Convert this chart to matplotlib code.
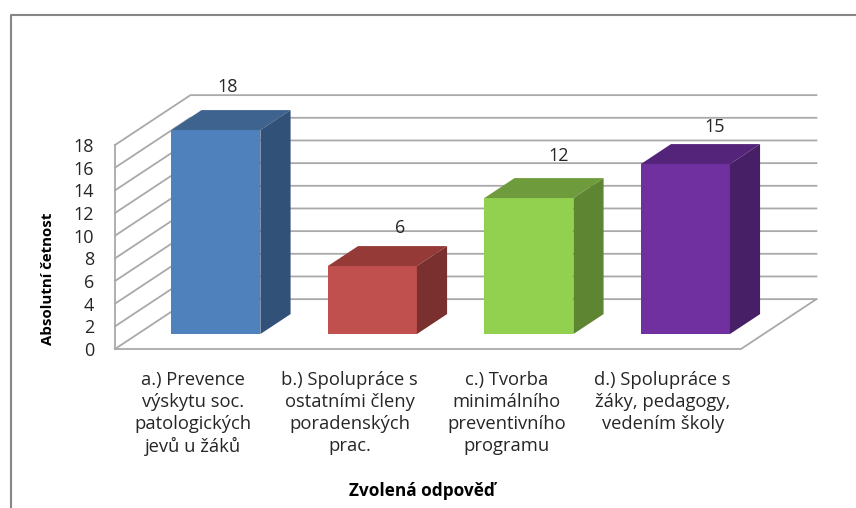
"""Recreation of an Excel style 3-D column chart, drawn from the values below."""
import matplotlib
matplotlib.use("Agg")
import matplotlib.pyplot as plt
from matplotlib.lines import Line2D

categories = [
    "a.) Prevence\nvýskytu soc.\npatologických\njevů u žáků",
    "b.) Spolupráce s\nostatními členy\nporadenských\nprac.",
    "c.) Tvorba\nminimálního\npreventivního\nprogramu",
    "d.) Spolupráce s\nžáky, pedagogy,\nvedením školy",
]
counts = [18, 6, 12, 15]
y_ticks = [0, 2, 4, 6, 8, 10, 12, 14, 16, 18]
y_label = "Absolutní četnost"
x_label = "Zvolená odpověď"

front_colors = ["#4F81BD", "#C0504D", "#92D050", "#7030A0"]
top_colors = ["#3F638F", "#953A37", "#6E9C3C", "#53247A"]
side_colors = ["#315178", "#7A302E", "#5E8532", "#471F66"]

W, H = 856, 508
DEPTH_X = 0.482   # full floor depth, in category units
DEPTH_Y = 4.4     # full floor depth, in value units
BAR_W = 0.569
BAR_D0, BAR_D1 = 0.30, 0.70   # where the bars sit inside the floor depth
GRID = "#A9A9A9"
TEXT = "#262626"
FONT = "Open Sans"
# data labels sit a little unevenly above the columns (pixels)
label_nudge = [(12, 43), (28, 38), (30, 42), (29, 37)]

plt.rcParams["font.family"] = [FONT, "DejaVu Sans"]

fig = plt.figure(figsize=(W / 100, H / 100), dpi=100)
ax = fig.add_axes([115 / W, (H - 349) / H, (741 - 115) / W, (349 - 145) / H])
ax.set_xlim(0, 4)
ax.set_ylim(0, 18)
for s in ax.spines.values():
    s.set_visible(False)
ax.patch.set_alpha(0)

# walls: one line per tick, running front-left -> back-left -> back-right
for v in y_ticks:
    ax.plot([0, DEPTH_X, 4 + DEPTH_X], [v, v + DEPTH_Y, v + DEPTH_Y],
            color=GRID, lw=1.3, clip_on=False, zorder=1)
ax.plot([0, 0], [0, 18], color=GRID, lw=1.3, clip_on=False, zorder=1)
ax.plot([0, 4, 4 + DEPTH_X], [0, 0, DEPTH_Y], color=GRID, lw=1.3, clip_on=False, zorder=1)

# columns
for i, v in enumerate(counts):
    x0 = i + 0.5 - BAR_W / 2 + BAR_D0 * DEPTH_X
    x1 = x0 + BAR_W
    y0 = BAR_D0 * DEPTH_Y
    dx = (BAR_D1 - BAR_D0) * DEPTH_X
    dy = (BAR_D1 - BAR_D0) * DEPTH_Y
    ax.bar(x0, v, BAR_W, bottom=y0, align="edge", color=front_colors[i], zorder=3,
           clip_on=False)
    ax.fill([x0, x1, x1 + dx, x0 + dx], [y0 + v, y0 + v, y0 + v + dy, y0 + v + dy],
            color=top_colors[i], lw=0, zorder=3, clip_on=False)
    ax.fill([x1, x1 + dx, x1 + dx, x1], [y0, y0 + dy, y0 + v + dy, y0 + v],
            color=side_colors[i], lw=0, zorder=3, clip_on=False)
    ax.annotate(str(v), (x0 + BAR_W / 2, y0 + v), xytext=label_nudge[i],
                textcoords="offset pixels", ha="center", va="center",
                fontsize=13, color=TEXT, annotation_clip=False, zorder=4)

ax.set_xticks([i + 0.5 for i in range(len(categories))])
ax.set_xticklabels(categories, fontsize=13.2, color=TEXT, linespacing=1.3)
ax.set_yticks(y_ticks)
ax.tick_params(axis="y", length=0, pad=15, labelsize=13, labelcolor=TEXT)
ax.tick_params(axis="x", length=0, pad=15.5)
for t in ax.get_xticklabels():
    t.set_x(t.get_position()[0] - 0.005)

fig.text(48 / W, 1 - 279 / H, y_label, rotation=90, ha="center", va="center",
         fontsize=10.8, fontweight="bold", color="black")
fig.text(422 / W, 1 - 491 / H, x_label, ha="center", va="center",
         fontsize=12.4, fontweight="bold", color="black")

# chart area frame, only its top and left edges are in the crop
fig.add_artist(Line2D([11 / W, 11 / W, 1], [0, 1 - 15 / H, 1 - 15 / H],
                      color="#868686", lw=1.5, transform=fig.transFigure))

fig.savefig("out.png", dpi=100)
